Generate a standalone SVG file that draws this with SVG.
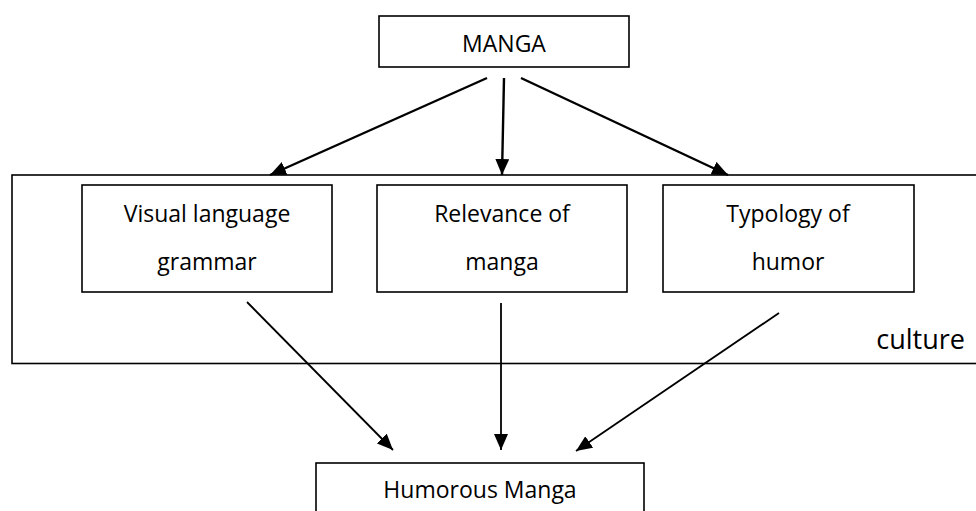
<svg xmlns="http://www.w3.org/2000/svg" width="976" height="511" viewBox="0 0 976 511">
<style>
.box{fill:#fff;stroke:#000;stroke-width:1.6}
.frame{fill:none;stroke:#000;stroke-width:1.6}
.lbl{font-family:"Open Sans","Noto Sans",sans-serif;font-size:23px;fill:#000;text-anchor:middle}
.big{font-size:27px;text-anchor:end}
.conn{stroke:#000;fill:none}
.top{stroke-width:2.4}
.bot{stroke-width:1.8}
</style>
<defs>
<marker id="ah" markerUnits="userSpaceOnUse" markerWidth="16" markerHeight="14" refX="16" refY="7" orient="auto">
<path d="M0,0 L16,7 L0,14 Z" fill="#000"/>
</marker>
</defs>
<rect width="976" height="511" fill="#fff"/>
<g id="culture">
<rect class="frame" x="12" y="175" width="970" height="188.5"/>
<text class="lbl big" x="965" y="349">culture</text>
</g>
<g id="manga">
<rect class="box" x="379" y="16" width="250" height="51"/>
<text class="lbl" x="504" y="52">MANGA</text>
</g>
<g id="visual">
<rect class="box" x="82" y="185" width="250" height="107"/>
<text class="lbl" x="207" y="222">Visual language</text>
<text class="lbl" x="207" y="270">grammar</text>
</g>
<g id="relevance">
<rect class="box" x="377" y="185" width="250" height="107"/>
<text class="lbl" x="502" y="222">Relevance of</text>
<text class="lbl" x="502" y="270">manga</text>
</g>
<g id="typology">
<rect class="box" x="663" y="185" width="251" height="107"/>
<text class="lbl" x="788" y="222">Typology of</text>
<text class="lbl" x="788" y="270">humor</text>
</g>
<g id="humorous">
<rect class="box" x="316" y="463" width="328" height="60"/>
<text class="lbl" x="480" y="498">Humorous Manga</text>
</g>
<g id="connectors">
<line class="conn top" x1="487" y1="78" x2="270" y2="175" marker-end="url(#ah)"/>
<line class="conn top" x1="504" y1="78" x2="502" y2="175" marker-end="url(#ah)"/>
<line class="conn top" x1="521" y1="78" x2="728" y2="175" marker-end="url(#ah)"/>
<line class="conn bot" x1="247" y1="302" x2="393" y2="450" marker-end="url(#ah)"/>
<line class="conn bot" x1="501" y1="303" x2="501" y2="450" marker-end="url(#ah)"/>
<line class="conn bot" x1="779" y1="313" x2="576" y2="451" marker-end="url(#ah)"/>
</g>
</svg>
